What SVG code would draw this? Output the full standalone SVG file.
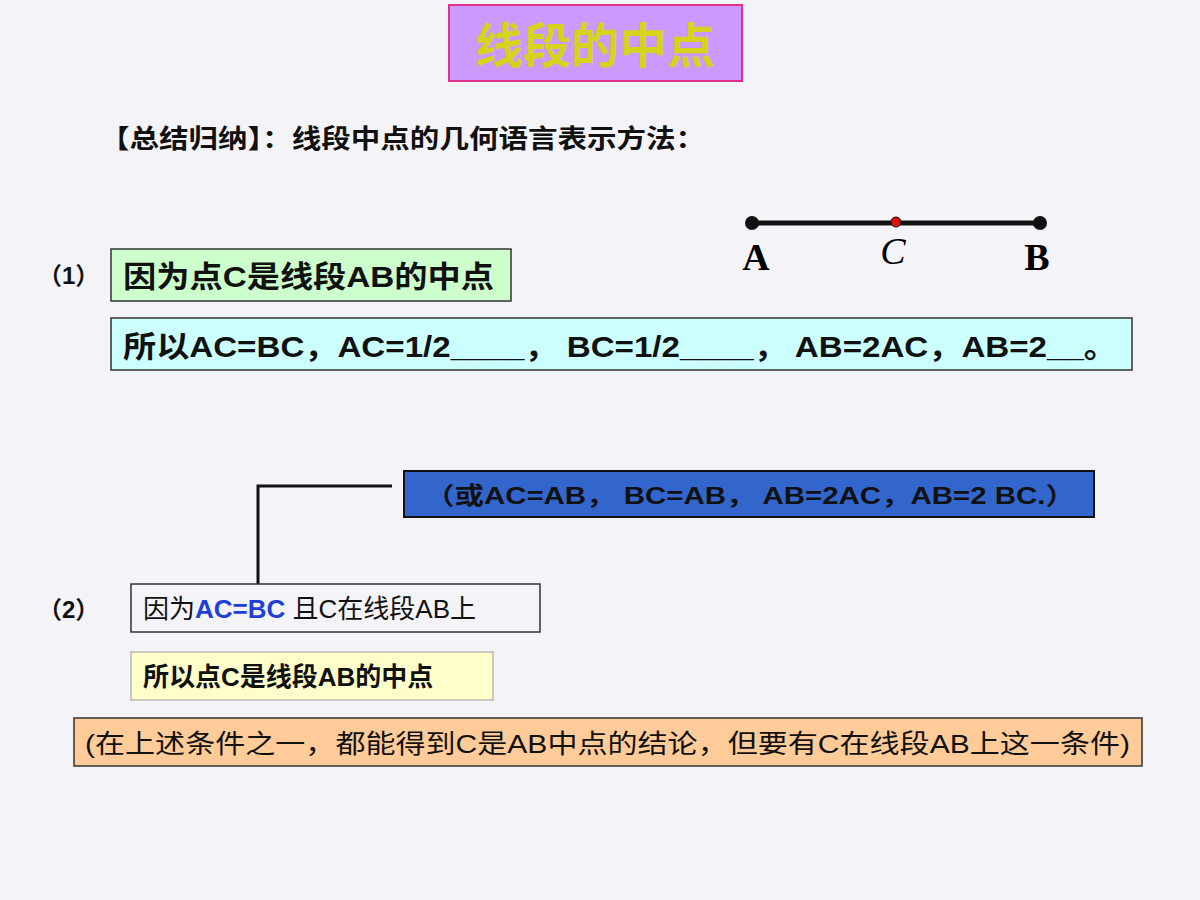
<svg xmlns="http://www.w3.org/2000/svg" width="1200" height="900" viewBox="0 0 1200 900">
<style>
.t{font-family:"Liberation Sans","Noto Sans CJK SC",sans-serif;fill:#111}
.b{font-weight:bold}
.box{stroke:#333;stroke-width:1.5}
</style>
<rect width="1200" height="900" fill="#f4f3f7"/>
<g id="title"><rect x="449" y="5" width="293" height="76" fill="#cc99ff" stroke="#e0308a" stroke-width="2"/>
<text x="595" y="63" text-anchor="middle" class="t b" font-size="48" style="fill:#d4d41a">线段的中点</text></g>
<g id="summary"><text x="100" y="148" class="t b" font-size="26" textLength="605" lengthAdjust="spacingAndGlyphs">【总结归纳】：线段中点的几何语言表示方法：</text></g>
<g id="segment">
<line x1="752" y1="223" x2="1040" y2="223" stroke="#111" stroke-width="5"/>
<circle cx="752" cy="223" r="7" fill="#111"/><circle cx="1040" cy="223" r="7" fill="#111"/>
<circle cx="896" cy="222" r="5" fill="#e01010" stroke="#111"/>
<text x="756" y="270" text-anchor="middle" font-family="Liberation Serif,serif" font-weight="bold" font-size="38">A</text>
<text x="893" y="264" text-anchor="middle" font-family="Liberation Serif,serif" font-style="italic" font-size="38">C</text>
<text x="1037" y="270" text-anchor="middle" font-family="Liberation Serif,serif" font-weight="bold" font-size="38">B</text>
</g>
<g id="p1"><text x="38" y="284" class="t b" font-size="24">（1）</text>
<rect x="111" y="249" width="400" height="52" fill="#ccffcc" class="box"/>
<text x="123" y="287" class="t b" font-size="30" textLength="371" lengthAdjust="spacingAndGlyphs">因为点C是线段AB的中点</text></g>
<g id="p1b"><rect x="111" y="318" width="1021" height="52" fill="#ccffff" class="box"/>
<text x="123" y="357" class="t b" font-size="30" textLength="994" lengthAdjust="spacingAndGlyphs">所以AC=BC，AC=1/2____， BC=1/2____， AB=2AC，AB=2__。</text></g>
<g id="connectors"><polyline points="392,486 258,486 258,595" fill="none" stroke="#111" stroke-width="3"/></g>
<g id="alt"><rect x="404" y="471" width="690" height="46" fill="#3366cc" stroke="#111" stroke-width="2"/>
<text x="425" y="504" class="t b" font-size="24" textLength="650" lengthAdjust="spacingAndGlyphs">（或AC=AB， BC=AB， AB=2AC，AB=2 BC.）</text></g>
<g id="p2"><text x="38" y="618" class="t b" font-size="24">（2）</text>
<rect x="131" y="584" width="409" height="48" fill="#f4f3f7" class="box"/>
<text x="143" y="618" class="t" font-size="26">因为<tspan class="b" style="fill:#1f3fd6">AC=BC</tspan> 且C在线段AB上</text></g>
<g id="p2b"><rect x="131" y="652" width="362" height="48" fill="#ffffcc" stroke="#999" stroke-width="1"/>
<text x="143" y="686" class="t b" font-size="26">所以点C是线段AB的中点</text></g>
<g id="note"><rect x="74" y="718" width="1068" height="48" fill="#ffcc99" class="box"/>
<text x="85" y="753" class="t" font-size="26" textLength="1045" lengthAdjust="spacingAndGlyphs">(在上述条件之一，都能得到C是AB中点的结论，但要有C在线段AB上这一条件)</text></g>
</svg>
